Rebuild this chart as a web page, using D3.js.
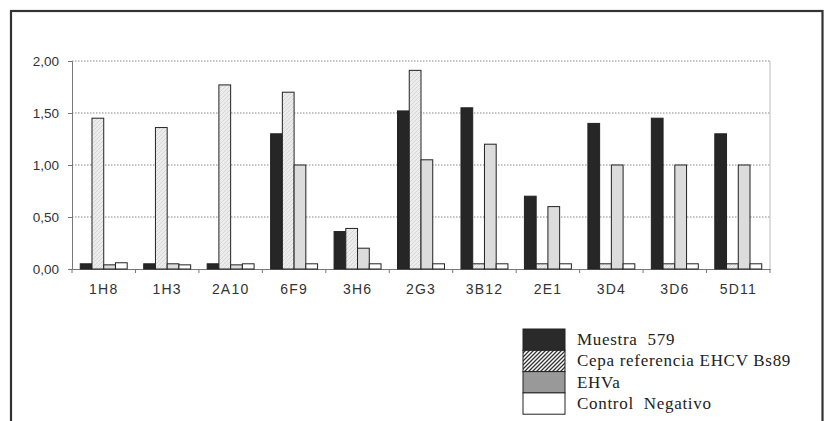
<!DOCTYPE html>
<html><head><meta charset="utf-8">
<script src="https://cdn.jsdelivr.net/npm/d3@7"></script>
<style>body{margin:0;background:#fff}svg{display:block}</style>
</head><body>
<script>
const categories = ["1H8","1H3","2A10","6F9","3H6","2G3","3B12","2E1","3D4","3D6","5D11"];
const seriesNames = ["Muestra  579","Cepa referencia EHCV Bs89","EHVa","Control  Negativo"];
const muestra  = [0.05,0.05,0.05,1.30,0.36,1.52,1.55,0.70,1.40,1.45,1.30];
const cepa     = [1.45,1.36,1.77,1.70,0.39,1.91,0.05,0.05,0.05,0.05,0.05];
const ehva     = [0.04,0.05,0.04,1.00,0.20,1.05,1.20,0.60,1.00,1.00,1.00];
const control  = [0.06,0.04,0.05,0.05,0.05,0.05,0.05,0.05,0.05,0.05,0.05];
const yTicks = [0,0.5,1,1.5,2];
const series = [muestra,cepa,ehva,control];

const W=827,H=421;
const svg=d3.select("body").append("svg").attr("width",W).attr("height",H);
const defs=svg.append("defs");
const p1=defs.append("pattern").attr("id","hatchLight").attr("patternUnits","userSpaceOnUse").attr("width",4).attr("height",4);
p1.append("rect").attr("width",4).attr("height",4).attr("fill","#ececec");
p1.append("path").attr("d","M-1,5 L5,-1").attr("stroke","#d2d2d2").attr("stroke-width",0.8);
const p2=defs.append("pattern").attr("id","hatchDark").attr("patternUnits","userSpaceOnUse").attr("width",4).attr("height",4);
p2.append("rect").attr("width",4).attr("height",4).attr("fill","#fff");
p2.append("path").attr("d","M-1,5 L5,-1 M3,5 L5,3 M-1,1 L1,-1").attr("stroke","#333").attr("stroke-width",1.3);

const chartFills=["#262626","url(#hatchLight)","#dcdcdc","#ffffff"];
const legendFills=["#2a2a2a","url(#hatchDark)","#999","#ffffff"];

// outer frame
svg.append("rect").attr("x",11).attr("y",11).attr("width",811.5).attr("height",430)
  .attr("fill","none").attr("stroke","#333").attr("stroke-width",2.2);

const x0=d3.scaleBand().domain(categories).range([72,770]).paddingInner(0.26).paddingOuter(0.13);
const xEdge=d3.scaleBand().domain(categories).range([72,770]);
const x1=d3.scaleBand().domain(d3.range(4)).range([0,x0.bandwidth()]);
const y=d3.scaleLinear().domain([0,2]).range([269,61]);

// grid
svg.append("g").selectAll("line").data(yTicks.filter(d=>d>0)).join("line")
  .attr("x1",72).attr("x2",770).attr("y1",d=>y(d)).attr("y2",d=>y(d))
  .attr("stroke","#888").attr("stroke-dasharray","1.5,1.5").attr("stroke-width",1);
svg.append("line").attr("x1",770).attr("x2",770).attr("y1",61).attr("y2",269).attr("stroke","#bbb");

// y axis
const yAx=svg.append("g").attr("transform","translate(72,0)")
  .call(d3.axisLeft(y).tickValues(yTicks).tickSize(4).tickPadding(9).tickFormat(d=>d3.format(".2f")(d).replace(".",",")));
yAx.select(".domain").attr("stroke","#777");
yAx.selectAll(".tick line").attr("stroke","#777");
yAx.selectAll("text").attr("font-family","Arial, 'Liberation Sans', sans-serif").attr("font-size",13.5).attr("fill","#333");

// x axis
const xAx=svg.append("g").attr("transform","translate(0,269)")
  .call(d3.axisBottom(xEdge).tickSize(0).tickPadding(15));
xAx.select(".domain").attr("stroke","#777");
xAx.selectAll("text").attr("font-family","Arial, 'Liberation Sans', sans-serif").attr("font-size",14).attr("letter-spacing","1.2px").attr("fill","#333");
svg.append("g").selectAll("line").data(d3.range(categories.length+1)).join("line")
  .attr("x1",i=>72+i*xEdge.step()).attr("x2",i=>72+i*xEdge.step()).attr("y1",269).attr("y2",273)
  .attr("stroke","#777");

// bars
const g=svg.append("g");
categories.forEach((c,ci)=>{
  series.forEach((s,si)=>{
    g.append("rect").attr("x",x0(c)+x1(si)).attr("width",x1.bandwidth())
      .attr("y",y(s[ci])).attr("height",y(0)-y(s[ci]))
      .attr("fill",chartFills[si]).attr("stroke","#222").attr("stroke-width",1);
  });
});

// legend
const lg=svg.append("g").attr("transform","translate(523,329)");
seriesNames.forEach((n,i)=>{
  lg.append("rect").attr("x",0).attr("y",i*21.3).attr("width",42).attr("height",21.3)
    .attr("fill",legendFills[i]).attr("stroke","#222").attr("stroke-width",1);
  lg.append("text").attr("x",54).attr("y",i*21.3+16).text(n)
    .attr("font-family","'Liberation Serif','Times New Roman',serif").attr("font-size",17)
    .attr("letter-spacing","0.7px")
    .attr("fill","#222").style("white-space","pre").attr("xml:space","preserve");
});
</script>
</body></html>
